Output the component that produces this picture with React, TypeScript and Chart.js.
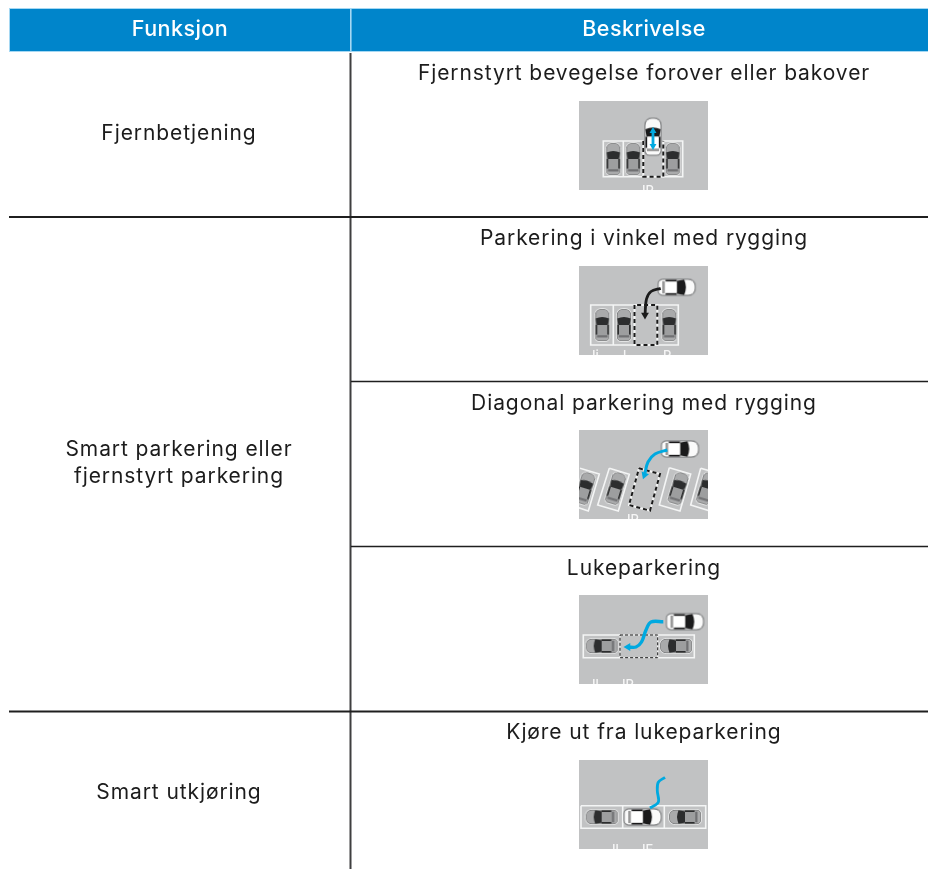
import React, { useEffect, useRef } from "react";
import Chart from "chart.js/auto";

const WIDTH = 928;
const HEIGHT = 869;

// ---- table text
const headers = ["Funksjon", "Beskrivelse"];
const functionLabels = [["Fjernbetjening"], ["Smart parkering eller", "fjernstyrt parkering"], ["Smart utkjøring"]];
const functionLabelY = [134, 463, 793];
const descriptions = [
  "Fjernstyrt bevegelse forover eller bakover",
  "Parkering i vinkel med rygging",
  "Diagonal parkering med rygging",
  "Lukeparkering",
  "Kjøre ut fra lukeparkering",
];
const descriptionY = [74, 239, 404, 569, 733];

// ---- table rules: [x1, y1, x2, y2, width]
const rules = [
  [9, 217, 928, 217, 2],
  [351, 381.5, 928, 381.5, 1.5],
  [351, 546.5, 928, 546.5, 1.5],
  [9, 711.5, 928, 711.5, 2],
  [350.5, 53, 350.5, 869, 2],
];

// ---- illustrations (each panel has its own origin)
const panelX = 579;
const panelY = [101, 266, 430, 595, 760];
const panelW = 129;
const panelH = 89;

type P = [number, number];
const whiteBays: [number, P[]][] = [
  [0, [[64.3, 40], [24.3, 40], [24.3, 75.7], [64.3, 75.7]]],
  [0, [[44.3, 40], [44.3, 75.7]]],
  [0, [[84.3, 40], [103.7, 40], [103.7, 75.7], [84.3, 75.7]]],
  [1, [[55.5, 39], [11.7, 39], [11.7, 79], [55.5, 79]]],
  [1, [[34.3, 39], [34.3, 79]]],
  [1, [[78.3, 39], [99.3, 39], [99.3, 79], [78.3, 79]]],
  [2, [[1, 38.3], [20.3, 44], [9.3, 81], [-9, 75]]],
  [2, [[30.3, 38.3], [50.3, 44.3], [39.3, 81], [18.7, 75], [30.3, 38.3]]],
  [2, [[90.3, 37.7], [111.7, 44], [101, 81], [80.3, 75], [90.3, 37.7]]],
  [2, [[121.7, 38.3], [142.7, 44.3], [131, 81], [111.7, 75], [121.7, 38.3]]],
  [3, [[41, 40], [4.3, 40], [4.3, 62.7], [41, 62.7]]],
  [3, [[78.7, 40], [115.3, 40], [115.3, 62.7], [78.7, 62.7]]],
  [4, [[2, 45.7], [126.7, 45.7], [126.7, 68.3], [2, 68.3], [2, 45.7]]],
  [4, [[43.7, 45.7], [43.7, 68.3]]],
  [4, [[85.3, 45.7], [85.3, 68.3]]],
];
const dashedBays: [number, P[], number][] = [
  [0, [[64.3, 40], [64.3, 75.7], [84.3, 75.7], [84.3, 40]], 2],
  [1, [[55.5, 39], [55.5, 79], [78.3, 79], [78.3, 39], [55.5, 39]], 2],
  [2, [[60, 38.3], [81, 44], [71, 80.7], [50, 75], [60, 38.3]], 2],
  [3, [[41, 40], [78.7, 40], [78.7, 62.7], [41, 62.7], [41, 40]], 1],
];

// panel, x, y, rotation
const parkedCars: [number, number, number, number][] = [
  [0, 34.3, 58, 0], [0, 54.3, 58, 0], [0, 93.7, 58, 0],
  [1, 23.3, 59, 0], [1, 45, 59, 0], [1, 90.3, 59, 0],
  [2, 6, 58.3, 17], [2, 36.7, 58.3, 17], [2, 99.3, 58.3, 17], [2, 127.7, 58.3, 17],
  [3, 22.7, 51, -90], [3, 97, 51, -90],
  [4, 22.7, 57, -90], [4, 106, 57, -90],
];
const mainCars: [number, number, number, number][] = [
  [0, 74, 35.7, 0],
  [1, 97.7, 21.3, 90],
  [2, 101, 19, 90],
  [3, 106, 26.7, 90],
  [4, 63.7, 57, 90],
];

const CYAN = "#00a9e0";
const BLACK = "#1b1b1b";
// panel, points, colour, head rotation (null = no head), line width
const arrows: [number, P[], string, number | null, number][] = [
  [0, [[74, 32], [74, 43]], CYAN, null, 2.8],
  [1, [[81.7, 22.3], [72, 25.5], [67.5, 33], [66, 49]], BLACK, 180, 2.8],
  [2, [[88.3, 20], [76, 24], [69, 32], [65.5, 45]], CYAN, 200, 3],
  [3, [[84.3, 26.7], [72, 27], [67, 35], [62.5, 47], [57, 52], [49, 52]], CYAN, -90, 3.4],
  [4, [[71, 48], [79.3, 42.3], [78.3, 30.7], [79.3, 22.3], [86, 17.3]], CYAN, null, 2.8],
];
const doubleHead: [number, P, number][] = [
  [0, [74, 30], 0],
  [0, [74, 45], 180],
];

// clipped white remnants at the foot of each panel: text, local x
const footTexts: [number, string, number][] = [
  [0, "IP", 63],
  [1, "Ii", 13], [1, "l", 44], [1, "P", 84],
  [2, "IP", 48],
  [3, "Il", 13], [3, "IP", 43],
  [4, "Il", 33], [4, "IF", 63],
];

function makeCar(w: number, h: number, body: string, rim: string, glass: string, roof: string, halo: string) {
  const pad = 2;
  const c = document.createElement("canvas");
  c.width = w + pad * 2;
  c.height = h + pad * 2;
  const x = c.getContext("2d")!;
  x.translate(pad, pad);
  x.fillStyle = body;
  x.strokeStyle = halo;
  x.lineWidth = 3;
  x.beginPath();
  x.roundRect(0.5, 0.5, w - 1, h - 1, [w * 0.4, w * 0.4, w * 0.26, w * 0.26]);
  x.stroke();
  x.strokeStyle = rim;
  x.lineWidth = 1.2;
  x.stroke();
  x.fill();
  // windscreen: spans nearly the full body width
  x.fillStyle = glass;
  x.beginPath();
  x.moveTo(w * 0.02, h * 0.3);
  x.quadraticCurveTo(w / 2, h * 0.2, w * 0.98, h * 0.3);
  x.lineTo(w * 0.9, h * 0.5);
  x.lineTo(w * 0.1, h * 0.5);
  x.closePath();
  x.fill();
  // side glass
  x.fillRect(w * 0.03, h * 0.5, w * 0.12, h * 0.3);
  x.fillRect(w * 0.85, h * 0.5, w * 0.12, h * 0.3);
  // roof
  x.fillStyle = roof;
  x.fillRect(w * 0.15, h * 0.5, w * 0.7, h * 0.32);
  // rear screen
  x.fillStyle = glass;
  x.globalAlpha = 0.45;
  x.fillRect(w * 0.12, h * 0.82, w * 0.76, h * 0.07);
  return c;
}

function toAbs(panel: number, pts: P[]) {
  return pts.map(([x, y]) => ({ x: panelX + x, y: panelY[panel] + y }));
}
// negative clip margins keep a dataset inside its own panel
function panelClip(panel: number) {
  return {
    left: -panelX,
    right: -(WIDTH - panelX - panelW),
    top: -panelY[panel],
    bottom: -(HEIGHT - panelY[panel] - panelH),
  };
}

const tablePlugin = {
  id: "table",
  beforeDatasetsDraw(chart: any) {
    const { ctx, scales } = chart;
    const X = (v: number) => scales.x.getPixelForValue(v);
    const Y = (v: number) => scales.y.getPixelForValue(v);
    ctx.save();
    ctx.fillStyle = "#0085cb";
    ctx.fillRect(X(9), Y(9), X(928) - X(9), Y(51) - Y(9));
    ctx.fillStyle = "#a5d8f3";
    ctx.fillRect(X(350), Y(9), 1.6, Y(52) - Y(9));
    ctx.fillRect(X(9), Y(51), X(928) - X(9), 1);
    ctx.fillRect(X(9), Y(8), X(928) - X(9), 1);
    ctx.fillRect(X(9), Y(8), 1, Y(52) - Y(8));
    ctx.fillStyle = "#c1c2c3";
    panelY.forEach((py) => ctx.fillRect(X(panelX), Y(py), panelW, panelH));
    ctx.restore();
  },
  afterDatasetsDraw(chart: any) {
    const { ctx, scales } = chart;
    const X = (v: number) => scales.x.getPixelForValue(v);
    const Y = (v: number) => scales.y.getPixelForValue(v);
    ctx.save();
    ctx.textAlign = "center";
    ctx.textBaseline = "middle";
    ctx.fillStyle = "#ffffff";
    ctx.font = '500 21.5px "Inter"';
    (ctx as any).letterSpacing = "0.45px";
    ctx.fillText(headers[0], X(180), Y(29.5));
    ctx.fillText(headers[1], X(644), Y(29.5));
    ctx.fillStyle = "#1c1c1c";
    ctx.font = '400 21px "Inter"';
    (ctx as any).letterSpacing = "0.9px";
    functionLabels.forEach((lines, i) => {
      lines.forEach((t, j) => {
        const y = functionLabelY[i] + (j - (lines.length - 1) / 2) * 27;
        ctx.fillText(t, X(179), Y(y));
      });
    });
    descriptions.forEach((t, i) => ctx.fillText(t, X(644), Y(descriptionY[i])));
    ctx.restore();

    // clipped foot text in the panels
    ctx.save();
    ctx.font = '500 13px "Inter"';
    ctx.fillStyle = "rgba(255,255,255,0.85)";
    ctx.textBaseline = "top";
    ctx.textAlign = "left";
    footTexts.forEach(([p, t, lx]) => {
      ctx.save();
      ctx.beginPath();
      ctx.rect(X(panelX), Y(panelY[p]), panelW, panelH);
      ctx.clip();
      ctx.fillText(t, X(panelX + lx), Y(panelY[p] + panelH - 5));
      ctx.restore();
    });
    ctx.restore();
  },
};

export default function App() {
  const ref = useRef<HTMLCanvasElement | null>(null);
  useEffect(() => {
    document.body.style.margin = "0";
    document.body.style.background = "#ffffff";
    const parkedImg = makeCar(14, 32, "#a9aaab", "#6f7071", "#2c2d2e", "#9d9e9f", "rgba(235,236,236,0.8)");
    const mainImg = makeCar(16, 37, "#fafafa", "#77787a", "#1a1a1b", "#ffffff", "rgba(150,151,152,0.9)");
    const base = { showLine: true, pointRadius: 0, pointHoverRadius: 0, fill: false };
    const datasets: any[] = [];
    rules.forEach(([x1, y1, x2, y2, w]) =>
      datasets.push({
        ...base,
        order: 6,
        data: [{ x: x1, y: y1 }, { x: x2, y: y2 }],
        borderColor: x1 === x2 ? "#3f3f40" : "#1f1f1f",
        borderWidth: w,
      })
    );
    whiteBays.forEach(([p, pts]) =>
      datasets.push({
        ...base,
        order: 5,
        clip: panelClip(p),
        data: toAbs(p, pts),
        borderColor: "#f4f5f5",
        borderWidth: 1.6,
      })
    );
    dashedBays.forEach(([p, pts, w]) => {
      datasets.push({ ...base, order: 4, data: toAbs(p, pts), borderColor: "#f4f5f5", borderWidth: w });
      datasets.push({
        ...base,
        order: 3.5,
        data: toAbs(p, pts),
        borderColor: "#1a1a1a",
        borderWidth: w,
        borderDash: w > 1 ? [4, 3] : [3, 2],
      });
    });
    parkedCars.forEach(([p, x, y, rot]) =>
      datasets.push({
        showLine: false,
        order: 3,
        clip: panelClip(p),
        data: toAbs(p, [[x, y]]),
        pointStyle: parkedImg,
        pointRotation: rot,
        pointRadius: 1,
        pointHoverRadius: 1,
      })
    );
    mainCars.forEach(([p, x, y, rot]) =>
      datasets.push({
        showLine: false,
        order: 2,
        data: toAbs(p, [[x, y]]),
        pointStyle: mainImg,
        pointRotation: rot,
        pointRadius: 1,
        pointHoverRadius: 1,
      })
    );
    arrows.forEach(([p, pts, color, head, w]) =>
      datasets.push({
        showLine: true,
        order: 1,
        data: toAbs(p, pts),
        borderColor: color,
        backgroundColor: color,
        borderWidth: w,
        tension: 0.35,
        pointStyle: "triangle",
        pointBorderWidth: 0,
        pointRotation: head ?? 0,
        pointRadius: (c: any) => (head !== null && c.dataIndex === pts.length - 1 ? 4.5 : 0),
        pointHoverRadius: 0,
      })
    );
    doubleHead.forEach(([p, pt, rot]) =>
      datasets.push({
        showLine: false,
        order: 0.5,
        data: toAbs(p, [pt]),
        backgroundColor: CYAN,
        pointBorderWidth: 0,
        pointStyle: "triangle",
        pointRotation: rot,
        pointRadius: 4,
        pointHoverRadius: 4,
      })
    );

    const chart = new Chart(ref.current!, {
      type: "scatter",
      data: { datasets },
      options: {
        animation: false,
        responsive: false,
        events: [],
        layout: { padding: 0, autoPadding: false },
        plugins: { legend: { display: false }, tooltip: { enabled: false }, title: { display: false } },
        scales: {
          x: { type: "linear", display: false, min: 0, max: WIDTH },
          y: { type: "linear", display: false, min: 0, max: HEIGHT, reverse: true },
        },
      },
      plugins: [tablePlugin],
    } as any);
    return () => chart.destroy();
  }, []);
  return <canvas ref={ref} width={WIDTH} height={HEIGHT} style={{ display: "block" }} />;
}
